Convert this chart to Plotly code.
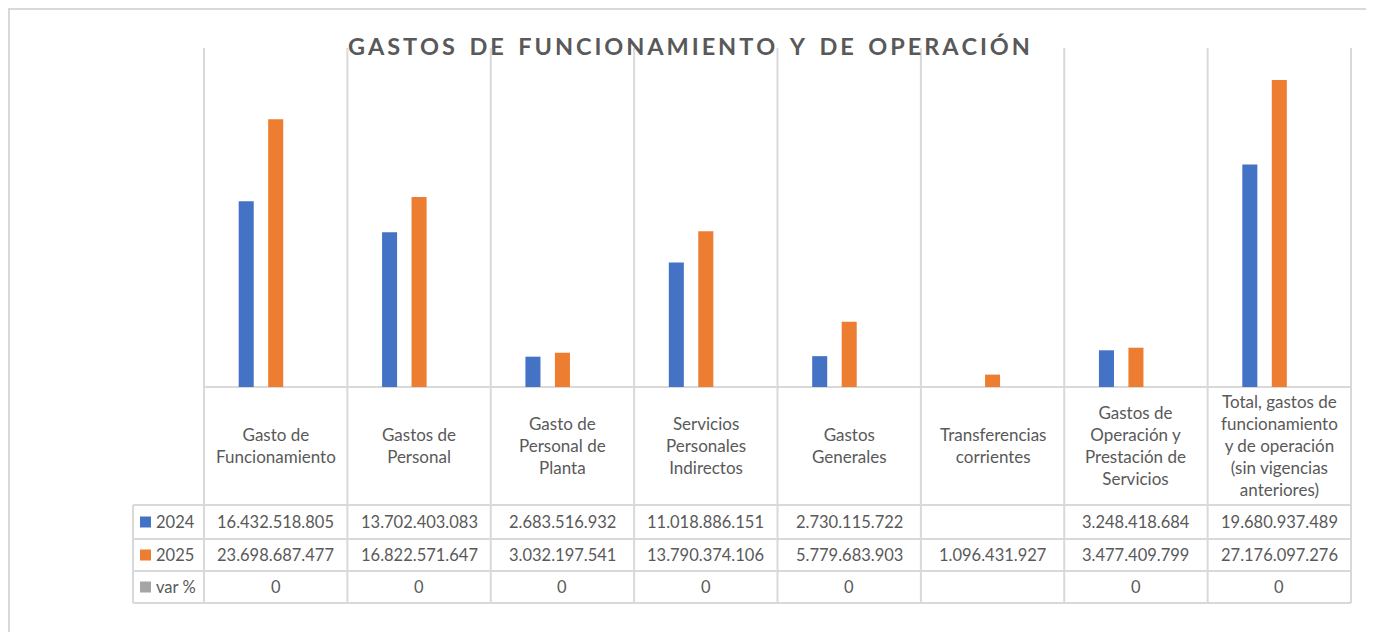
import plotly.graph_objects as go

categories = ["Gasto de<br>Funcionamiento", "Gastos de<br>Personal", "Gasto de<br>Personal de<br>Planta",
              "Servicios<br>Personales<br>Indirectos", "Gastos<br>Generales", "Transferencias<br>corrientes",
              "Gastos de<br>Operación y<br>Prestación de<br>Servicios",
              "Total, gastos de<br>funcionamiento<br>y de operación<br>(sin vigencias<br>anteriores)"]
v2024 = [16432518805, 13702403083, 2683516932, 11018886151, 2730115722, None, 3248418684, 19680937489]
v2025 = [23698687477, 16822571647, 3032197541, 13790374106, 5779683903, 1096431927, 3477409799, 27176097276]
var_pct = [0, 0, 0, 0, 0, None, 0, 0]
series_names = ["2024", "2025", "var %"]
colors = ["#4472C4", "#ED7D31", "#A5A5A5"]
title_text = "GASTOS DE FUNCIONAMIENTO Y DE OPERACIÓN"

# page is rendered with an 8px body margin
OFF = 8
PAGE_W, PAGE_H = 1374, 632
W, H = PAGE_W - OFF, PAGE_H - OFF
L, R, T, B = 204, 1351, 48, 387   # plot area in page pixels
PW, PH = R - L, B - T

def px(x):
    return (x - L) / PW

def py(y):
    return (B - y) / PH

def fmt(v):
    if v is None:
        return ""
    return f"{v:,}".replace(",", ".")

FONT = "Lato"
TXT = "#595959"
GRID = "#D9D9D9"
FS_CAT = 17
FS_NUM = 16.5

fig = go.Figure()
xs = list(range(len(categories)))
for name, vals, c in zip(series_names, [v2024, v2025, var_pct], colors):
    fig.add_trace(go.Bar(x=xs, y=vals, name=name, marker=dict(color=c, line=dict(width=0)),
                         showlegend=False, hoverinfo="y"))

shapes = []
shapes.append(dict(type="rect", xref="paper", yref="paper", x0=px(OFF + 1), x1=px(1370), y0=py(OFF + 1),
                   y1=py(660), line=dict(color=GRID, width=2), fillcolor="rgba(0,0,0,0)", layer="below"))
n = len(categories)
cw = PW / n
for i in range(n + 1):
    x = L + i * cw
    shapes.append(dict(type="line", xref="paper", yref="paper", x0=px(x), x1=px(x), y0=py(T), y1=py(603),
                       line=dict(color=GRID, width=2), layer="below"))
shapes.append(dict(type="line", xref="paper", yref="paper", x0=px(133), x1=px(133), y0=py(505), y1=py(603),
                   line=dict(color=GRID, width=2), layer="below"))
shapes.append(dict(type="line", xref="paper", yref="paper", x0=px(L), x1=px(R), y0=py(387), y1=py(387),
                   line=dict(color=GRID, width=2), layer="below"))
for y in [505, 539, 571, 603]:
    shapes.append(dict(type="line", xref="paper", yref="paper", x0=px(133), x1=px(R), y0=py(y), y1=py(y),
                       line=dict(color=GRID, width=2), layer="below"))

annotations = []
for i, cat in enumerate(categories):
    cx = L + (i + 0.5) * cw
    annotations.append(dict(text=cat, xref="paper", yref="paper", x=px(cx), y=py(446), xanchor="center",
                            yanchor="middle", showarrow=False, font=dict(family=FONT, size=FS_CAT, color=TXT)))
row_centers = [522, 555, 587]
for r, (name, vals, c) in enumerate(zip(series_names, [v2024, v2025, var_pct], colors)):
    yc = row_centers[r]
    shapes.append(dict(type="rect", xref="paper", yref="paper", x0=px(140), x1=px(151), y0=py(yc - 5.5),
                       y1=py(yc + 5.5), line=dict(width=0), fillcolor=c))
    annotations.append(dict(text=name, xref="paper", yref="paper", x=px(154), y=py(yc), xanchor="left",
                            yanchor="middle", showarrow=False, font=dict(family=FONT, size=FS_NUM, color=TXT)))
    for i, v in enumerate(vals):
        cx = L + (i + 0.5) * cw
        annotations.append(dict(text=fmt(v), xref="paper", yref="paper", x=px(cx), y=py(yc), xanchor="center",
                                yanchor="middle", showarrow=False, font=dict(family=FONT, size=FS_NUM, color=TXT)))

spaced = "\u2009".join(list(title_text)).replace("\u2009 \u2009", "\u2009 \u2009\u2009")
annotations.append(dict(text=f"<b>{spaced}</b>", xref="paper", yref="paper", x=px(688.5), y=py(46),
                        xanchor="center", yanchor="middle", showarrow=False,
                        font=dict(family=FONT, size=23.5, color=TXT)))

fig.update_layout(
    width=W, height=H, template="none",
    paper_bgcolor="white", plot_bgcolor="rgba(0,0,0,0)",
    margin=dict(l=L - OFF, r=PAGE_W - R, t=T - OFF, b=PAGE_H - B, pad=0),
    barmode="group", bargap=0.383, bargroupgap=0.49,
    xaxis=dict(range=[-0.5, n - 0.5], showticklabels=False, showgrid=False, zeroline=False, showline=False,
               ticks=""),
    yaxis=dict(range=[0, 30e9], showticklabels=False, showgrid=False, zeroline=False, showline=False,
               ticks=""),
    shapes=shapes, annotations=annotations,
    font=dict(family=FONT, color=TXT),
)

fig.write_html("out.html")
